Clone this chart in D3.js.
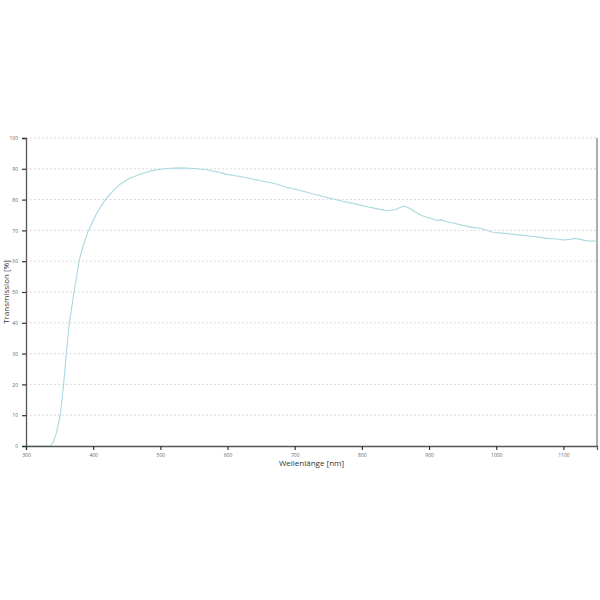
<!DOCTYPE html>
<html>
<head>
<meta charset="utf-8">
<script src="https://cdn.jsdelivr.net/npm/d3@7"></script>
<style>
  body { margin: 0; background: #fff; }
  svg { font-family: "Open Sans", sans-serif; }
</style>
</head>
<body>
<script>
// wavelength in nm and transmission in %
var wavelength = [300, 320, 336, 340, 345, 351, 356, 360, 364.5, 371.5, 379, 385, 393, 405, 418, 430, 440, 455, 470, 489,
    510, 529, 550, 569, 589, 599, 619, 639, 649, 670, 688, 710, 728, 750, 768, 790, 808, 825, 837, 850,
    862, 870, 887, 900, 907, 912, 917, 925, 936, 950, 966, 977, 996, 1010, 1026, 1040, 1056, 1076, 1090, 1100,
    1110, 1118, 1135, 1150];
var transmission = [0, 0, 0, 1, 4, 10, 20, 30, 40, 50, 60, 65, 70, 75.5, 80, 83, 85, 87, 88.2, 89.5,
    90.1, 90.3, 90.1, 89.7, 88.8, 88.2, 87.5, 86.6, 86.1, 85.2, 84.0, 82.9, 81.8, 80.6, 79.6, 78.6, 77.7, 76.9, 76.4, 76.8,
    77.9, 77.3, 75.0, 74.0, 73.6, 73.2, 73.5, 72.9, 72.4, 71.7, 70.9, 70.7, 69.3, 69.1, 68.7, 68.4, 68.0, 67.4, 67.2, 66.9,
    67.1, 67.4, 66.6, 66.5];
var xTicks = [300, 400, 500, 600, 700, 800, 900, 1000, 1100];
var yTicks = [0, 10, 20, 30, 40, 50, 60, 70, 80, 90, 100];

var width = 600;
var height = 600;
var plotLeft = 26, plotRight = 597, plotTop = 138, plotBottom = 446;

var svg = d3.select("body").append("svg").attr("width", width).attr("height", height);

var xScale = d3.scaleLinear().domain([300, 1150]).range([plotLeft, plotRight]);
var yScale = d3.scaleLinear().domain([0, 100]).range([plotBottom, plotTop]);

// dotted horizontal grid
svg.append("g")
    .selectAll("line")
    .data(yTicks.filter(function(d) { return d > 0; }))
    .enter()
    .append("line")
    .attr("x1", plotLeft)
    .attr("x2", plotRight)
    .attr("y1", function(d) { return yScale(d); })
    .attr("y2", function(d) { return yScale(d); })
    .attr("stroke", "#cfcfcf")
    .attr("stroke-width", 1)
    .attr("stroke-dasharray", "1.5,2.5");

// right border
svg.append("line")
    .attr("x1", plotRight).attr("x2", plotRight)
    .attr("y1", plotTop).attr("y2", plotBottom)
    .attr("stroke", "#777").attr("stroke-width", 1.2);

var line = d3.line()
    .x(function(d, i) { return xScale(wavelength[i]); })
    .y(function(d) { return yScale(d); });

svg.append("path")
    .datum(transmission)
    .attr("d", line)
    .attr("fill", "none")
    .attr("stroke", "#a9d8df")
    .attr("stroke-width", 1.1);

var yAxis = svg.append("g")
    .attr("transform", "translate(" + plotLeft + ",0)")
    .call(d3.axisLeft(yScale).tickValues(yTicks).tickFormat(d3.format("d")).tickSize(4).tickPadding(4));

var xAxis = svg.append("g")
    .attr("transform", "translate(0," + plotBottom + ")")
    .call(d3.axisBottom(xScale).tickValues(xTicks).tickFormat(d3.format("d")).tickSize(4).tickPadding(3));

[xAxis, yAxis].forEach(function(ax) {
    ax.select(".domain").attr("stroke", "#555").attr("stroke-width", 1.3);
    ax.selectAll(".tick line").attr("stroke", "#333").attr("stroke-width", 1.2);
    ax.selectAll(".tick text")
        .attr("fill", "#666")
        .style("font-size", "5px")
        .style("font-family", "Open Sans, sans-serif");
});

svg.append("text")
    .attr("x", (plotLeft + plotRight) / 2)
    .attr("y", 466)
    .attr("text-anchor", "middle")
    .attr("fill", "#333")
    .style("font-size", "8px")
    .text("Wellenlänge [nm]");

svg.append("text")
    .attr("transform", "translate(9," + ((plotTop + plotBottom) / 2) + ") rotate(-90)")
    .attr("text-anchor", "middle")
    .attr("fill", "#333")
    .style("font-size", "8px")
    .text("Transmission [%]");
</script>
</body>
</html>
